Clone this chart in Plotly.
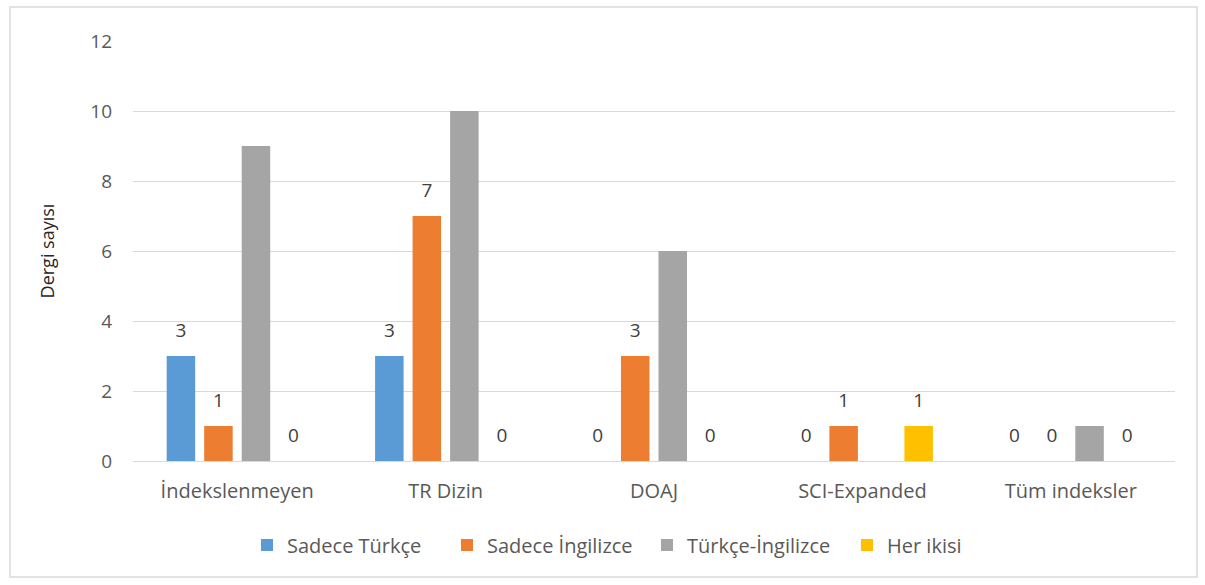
import plotly.graph_objects as go

categories = ["İndekslenmeyen", "TR Dizin", "DOAJ", "SCI-Expanded", "Tüm indeksler"]
series_names = ["Sadece Türkçe", "Sadece İngilizce", "Türkçe-İngilizce", "Her ikisi"]
sadece_turkce = [3, 3, 0, 0, 0]
sadece_ingilizce = [1, 7, 3, 1, 0]
turkce_ingilizce = [9, 10, 6, 0, 1]
her_ikisi = [0, 0, 0, 1, 0]
show_labels = [True, True, False, True]
colors = ["#5B9BD5", "#ED7D31", "#A5A5A5", "#FFC000"]
y_ticks = [0, 2, 4, 6, 8, 10, 12]

FONT = "Open Sans"
GAP = 0.28
all_series = [sadece_turkce, sadece_ingilizce, turkce_ingilizce, her_ikisi]

fig = go.Figure()
for i, (name, vals, col) in enumerate(zip(series_names, all_series, colors)):
    fig.add_trace(go.Bar(
        name=name, x=categories, y=vals, offsetgroup=str(i),
        marker=dict(color=col, line=dict(width=0)),
        textposition="none", hoverinfo="x+y+name",
    ))
# data labels, grouped the same way as the bars
for i, (vals, lab) in enumerate(zip(all_series, show_labels)):
    fig.add_trace(go.Scatter(
        x=categories, y=vals, offsetgroup=str(i), mode="markers+text",
        text=[str(v) for v in vals] if lab else [""] * len(vals),
        textposition="top center",
        textfont=dict(family=FONT, size=19, color="#404040"),
        marker=dict(size=22, opacity=0), showlegend=False, hoverinfo="skip",
        cliponaxis=False,
    ))

fig.update_layout(
    width=1205, height=585,
    margin=dict(l=133, r=30, t=41, b=124),
    paper_bgcolor="white", plot_bgcolor="white",
    barmode="group", bargap=GAP, bargroupgap=0.24,
    scattermode="group", scattergap=GAP,
    font=dict(family=FONT, size=20, color="#595959"),
    showlegend=True,
    legend=dict(orientation="h", x=(263 - 133 - 16) / 1042, xanchor="left", y=-0.2, yanchor="middle",
                font=dict(family=FONT, size=20, color="#595959"),
                itemwidth=30, entrywidth=155, entrywidthmode="pixels", traceorder="normal"),
)
fig.update_yaxes(range=[0, 12], tickvals=y_ticks, showgrid=True, gridcolor="#D9D9D9",
                 gridwidth=1, zeroline=False, showline=False, ticks="",
                 ticklabelstandoff=20,
                 tickfont=dict(family=FONT, size=19, color="#595959"),
                 title=dict(text="Dergi sayısı", font=dict(family=FONT, size=18, color="#262626"),
                            standoff=30))
fig.update_xaxes(showline=True, linecolor="#D9D9D9", linewidth=1, ticks="",
                 tickfont=dict(family=FONT, size=20, color="#595959"), ticklabelstandoff=12)

fig.add_shape(type="rect", xref="paper", yref="paper",
              x0=-123 / 1042, x1=1 + 22 / 1042, y0=-116 / 420, y1=1 + 34 / 420,
              line=dict(color="#D9D9D9", width=1.5), fillcolor="rgba(0,0,0,0)", layer="below")

fig.write_html("out.html")
